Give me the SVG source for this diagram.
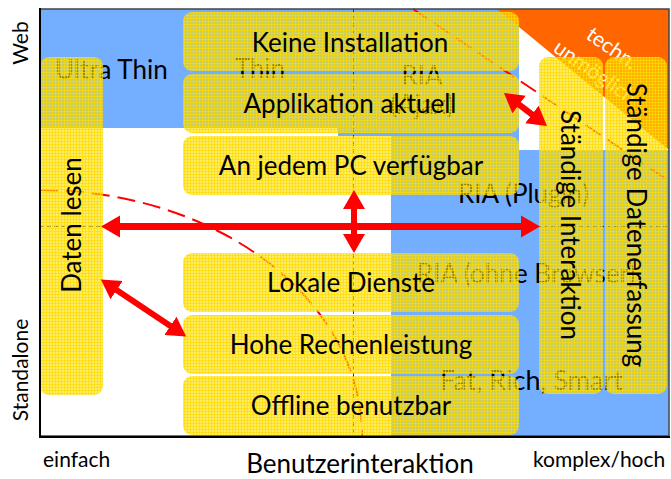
<svg xmlns="http://www.w3.org/2000/svg" width="671" height="479" viewBox="0 0 671 479">
  <defs>
    <!-- translucent cross-hatched yellow used for all feature boxes -->
    <pattern id="hatch" width="6" height="6" patternUnits="userSpaceOnUse">
      <rect width="6" height="6" fill="#FFDF00" fill-opacity="0.6"/>
      <path d="M0 0.5H6M0 3.5H6M1.5 0V6M4.5 0V6" stroke="#FFDC00" stroke-width="1" stroke-opacity="0.7"/>
    </pattern>
    <marker id="head" markerUnits="userSpaceOnUse" markerWidth="20" markerHeight="24" refX="1" refY="11" orient="auto-start-reverse" viewBox="0 0 20 22">
      <path d="M0 0L19 11L0 22Z" fill="#FF0000"/>
    </marker>
    <style>
      .lbl { font-family: Lato, "Open Sans", sans-serif; font-size: 26px; fill: #000; }
      .bg { font-family: Lato, "Open Sans", sans-serif; font-size: 26px; fill: #000; }
      .ax { font-family: Lato, "Open Sans", sans-serif; font-size: 21px; fill: #000; }
      .note { font-family: Lato, "Open Sans", sans-serif; font-size: 21px; fill: #FFFFFF; }
      .box { fill: url(#hatch); }
      .arrow { stroke: #FF0000; stroke-width: 7; fill: none; marker-start: url(#head); marker-end: url(#head); }
      .grid { stroke: #333; stroke-width: 1; stroke-dasharray: 4 3; fill: none; }
      .bound { stroke: #FF0000; stroke-width: 2; stroke-dasharray: 18 8; fill: none; }
    </style>
  </defs>

  <rect width="671" height="479" fill="#FFFFFF"/>

  <!-- background regions -->
  <g id="regions">
    <path d="M40 9H519V128H40Z M338 128H519V136H338Z M391 136H519V150H669V436H391Z" fill="#74AEFF"/>
    <path d="M497 9H669V150Z" fill="#FF6600"/>
    <text class="bg" x="55" y="79">Ultra Thin</text>
    <text class="bg" x="260" y="78" text-anchor="middle">Thin</text>
    <text class="bg" x="422" y="85" text-anchor="middle">RIA</text>
    <text class="bg" x="422" y="114" text-anchor="middle">(Ajax)</text>
    <text class="bg" x="458" y="203">RIA (Plugin)</text>
    <text class="bg" x="417" y="283">RIA (ohne Browser)</text>
    <text class="bg" x="440" y="390" style="font-size:27px">Fat, Rich, Smart</text>
    <text class="note" text-anchor="middle" transform="translate(608 54) rotate(35)">techn.</text>
    <text class="note" text-anchor="middle" transform="translate(591 78) rotate(35)">unmöglich</text>
  </g>

  <!-- guide lines -->
  <g id="guides">
    <path class="grid" d="M40 226.5H669"/>
    <path class="grid" d="M353.5 9V436"/>
    <path class="bound" d="M40 190A322 246 0 0 1 362 436"/>
    <path class="bound" d="M413 9L669 181"/>
  </g>

  <!-- feature boxes -->
  <g id="keine-installation">
    <rect class="box" x="183" y="12" width="336" height="59" rx="9"/>
    <text class="lbl" x="350" y="52" text-anchor="middle">Keine Installation</text>
  </g>
  <g id="applikation-aktuell">
    <rect class="box" x="183" y="74" width="336" height="59" rx="9"/>
    <text class="lbl" x="350" y="113" text-anchor="middle">Applikation aktuell</text>
  </g>
  <g id="an-jedem-pc">
    <rect class="box" x="183" y="136" width="336" height="59" rx="9"/>
    <text class="lbl" x="351" y="175" text-anchor="middle">An jedem PC verfügbar</text>
  </g>
  <g id="lokale-dienste">
    <rect class="box" x="183" y="253" width="336" height="59" rx="9"/>
    <text class="lbl" x="351" y="292" text-anchor="middle">Lokale Dienste</text>
  </g>
  <g id="hohe-rechenleistung">
    <rect class="box" x="183" y="315" width="336" height="59" rx="9"/>
    <text class="lbl" x="351" y="354" text-anchor="middle">Hohe Rechenleistung</text>
  </g>
  <g id="offline-benutzbar">
    <rect class="box" x="183" y="376" width="336" height="59" rx="9"/>
    <text class="lbl" x="351" y="415" text-anchor="middle">Offline benutzbar</text>
  </g>
  <g id="daten-lesen">
    <rect class="box" x="40" y="57" width="63" height="338" rx="9"/>
    <text class="lbl" text-anchor="middle" transform="translate(81 225) rotate(-90)">Daten lesen</text>
  </g>
  <g id="staendige-interaktion">
    <rect class="box" x="539" y="57" width="64" height="337" rx="9"/>
    <text class="lbl" text-anchor="middle" transform="translate(561 225) rotate(90)">Ständige Interaktion</text>
  </g>
  <g id="staendige-datenerfassung">
    <rect class="box" x="605" y="57" width="62" height="337" rx="9"/>
    <text class="lbl" text-anchor="middle" transform="translate(627 225) rotate(90)">Ständige Datenerfassung</text>
  </g>

  <!-- connectors -->
  <g id="connectors">
    <path class="arrow" d="M119 226.5H522"/>
    <path class="arrow" d="M354 208V235" style="stroke-width:6"/>
    <path class="arrow" d="M518.3 104L532.7 115" style="stroke-width:6"/>
    <path class="arrow" d="M115.8 289.5L171.2 326.5" style="stroke-width:6"/>
  </g>

  <!-- axes -->
  <g id="axes">
    <rect x="40" y="9" width="629" height="427" fill="none" stroke="#444" stroke-width="1.5"/>
    <path d="M40 8V437H670" fill="none" stroke="#000" stroke-width="2"/>
    <text class="ax" text-anchor="middle" transform="translate(28 43) rotate(-90)">Web</text>
    <text class="ax" text-anchor="middle" transform="translate(28 370) rotate(-90)">Standalone</text>
    <text class="ax" x="43" y="467">einfach</text>
    <text class="ax" x="533" y="467">komplex/hoch</text>
    <text class="lbl" x="360" y="473" text-anchor="middle">Benutzerinteraktion</text>
  </g>
</svg>
